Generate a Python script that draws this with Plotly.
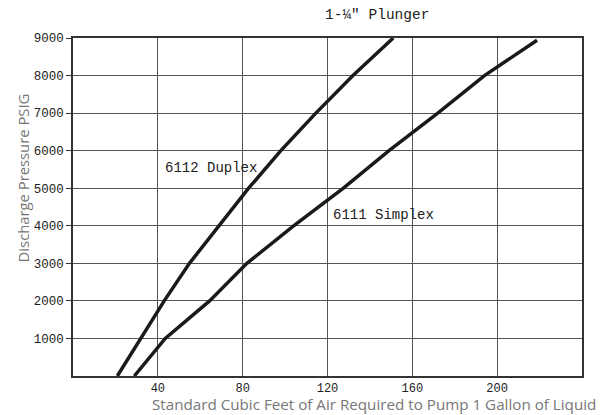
import plotly.graph_objects as go

# Data
duplex_cfm = [20.9, 32.0, 43.0, 54.9, 69.1, 82.8, 98.0, 114.5, 132.0, 151.0]
duplex_psi = [0, 1000, 2000, 3000, 4000, 5000, 6000, 7000, 8000, 9000]
simplex_cfm = [28.9, 43.5, 64.4, 82.0, 104.0, 127.5, 149.0, 172.0, 194.0, 218.8]
simplex_psi = [0, 1000, 2000, 3000, 4000, 5000, 6000, 7000, 8000, 8940]
x_ticks = [40, 80, 120, 160, 200]
y_ticks = [1000, 2000, 3000, 4000, 5000, 6000, 7000, 8000, 9000]

mono = "Liberation Mono, Courier New, monospace"
sans = "Open Sans, Noto Sans, sans-serif"

fig = go.Figure()
fig.add_trace(go.Scatter(x=duplex_cfm, y=duplex_psi, mode="lines",
                         line=dict(color="#1a1a1a", width=3.5), name="6112 Duplex",
                         showlegend=False))
fig.add_trace(go.Scatter(x=simplex_cfm, y=simplex_psi, mode="lines",
                         line=dict(color="#1a1a1a", width=3.5), name="6111 Simplex",
                         showlegend=False))

fig.add_annotation(x=42.6, y=5530, text="6112 Duplex", showarrow=False,
                   xanchor="left", yanchor="middle",
                   font=dict(family=mono, size=14, color="#222"))
fig.add_annotation(x=121.6, y=4280, text="6111 Simplex", showarrow=False,
                   xanchor="left", yanchor="middle",
                   font=dict(family=mono, size=14, color="#222"))
fig.add_annotation(xref="paper", yref="paper", x=0.598, y=1.069,
                   text="1-¼\" Plunger", showarrow=False,
                   xanchor="center", yanchor="middle",
                   font=dict(family=mono, size=14.5, color="#222"))
fig.add_annotation(xref="paper", yref="paper", x=0.592, y=-0.084,
                   text="Standard Cubic Feet of Air Required to Pump 1 Gallon of Liquid",
                   showarrow=False, xanchor="center", yanchor="middle",
                   font=dict(family=sans, size=15.2, color="#777"))
fig.add_annotation(xref="paper", yref="paper", x=-0.098, y=0.585,
                   text="Discharge Pressure PSIG", textangle=-90,
                   showarrow=False, xanchor="center", yanchor="middle",
                   font=dict(family=sans, size=14.8, color="#777"))

fig.update_xaxes(range=[0, 240], tickvals=x_ticks, ticktext=[str(v) for v in x_ticks],
                 showgrid=True, gridcolor="#555", gridwidth=1.2,
                 showline=True, linecolor="#333", linewidth=1.5, mirror=True,
                 ticks="", zeroline=False,
                 tickfont=dict(family=mono, size=12, color="#222"))
fig.update_yaxes(range=[0, 9000], tickvals=y_ticks, ticktext=[str(v) for v in y_ticks],
                 showgrid=True, gridcolor="#555", gridwidth=1.2,
                 showline=True, linecolor="#333", linewidth=1.5, mirror=True,
                 ticks="outside", ticklen=5, tickcolor="#333", zeroline=False,
                 tickfont=dict(family=mono, size=12.5, color="#222"))

# page body has an 8px default margin, so the figure is 8px smaller
fig.update_layout(width=598, height=407,
                  margin=dict(l=65, r=24, t=30, b=39),
                  plot_bgcolor="white", paper_bgcolor="white")

fig.write_html("out.html")
